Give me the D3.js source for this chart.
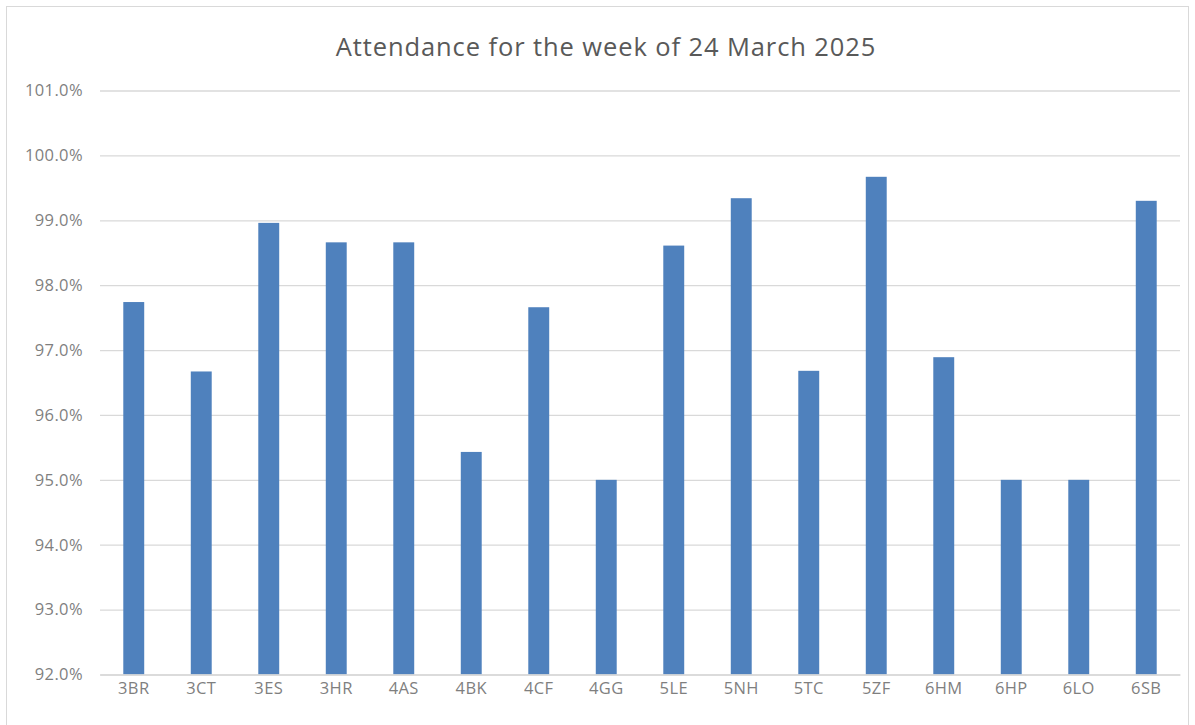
<!DOCTYPE html>
<html>
<head>
<meta charset="utf-8">
<script src="https://cdn.jsdelivr.net/npm/d3@7"></script>
<style>
  body { margin: 0; background: #fff; }
  svg { font-family: "Open Sans", "Noto Sans", sans-serif; }
  .t_title { font-size: 25.5px; fill: #595959; letter-spacing: 0.9px; }
  .axis text { font-family: "Open Sans", "Noto Sans", sans-serif; font-size: 16.5px; fill: #7f7f7f; letter-spacing: 0.4px; }
  .grid line { stroke: #d9d9d9; stroke-width: 1.3; }
</style>
</head>
<body>
<svg width="1195" height="725"></svg>
<script>
/* ----------------------------------------------------------
data
---------------------------------------------------------- */

var classes = ["3BR", "3CT", "3ES", "3HR", "4AS", "4BK", "4CF", "4GG",
  "5LE", "5NH", "5TC", "5ZF", "6HM", "6HP", "6LO", "6SB"];
var attendance = [97.74, 96.67, 98.96, 98.66, 98.66, 95.43, 97.66, 95.0,
  98.61, 99.34, 96.68, 99.67, 96.89, 95.0, 95.0, 99.3];
var yTicks = [92, 93, 94, 95, 96, 97, 98, 99, 100, 101];
var title = "Attendance for the week of 24 March 2025";

/* ----------------------------------------------------------
setting
---------------------------------------------------------- */

var width = 1195;
var height = 725;
var plot = { left: 100, right: 1180, top: 90.5, bottom: 674.5 };

var svg = d3.select("svg");

// chart frame
svg.append("rect")
  .attr("x", 6.5).attr("y", 6.5)
  .attr("width", width - 13).attr("height", height - 6)
  .attr("fill", "#fff")
  .attr("stroke", "#d9d9d9");

var x = d3.scaleBand()
  .domain(classes)
  .range([plot.left, plot.right])
  .paddingInner(0.69)
  .paddingOuter(0.345);

var y = d3.scaleLinear()
  .domain([92, 101])
  .range([plot.bottom, plot.top]);

/* ----------------------------------------------------------
draw
---------------------------------------------------------- */

svg.append("text")
  .attr("class", "t_title")
  .attr("x", 606)
  .attr("y", 56)
  .attr("text-anchor", "middle")
  .text(title);

// gridlines
svg.append("g")
  .attr("class", "grid")
  .attr("transform", "translate(" + plot.left + ",0)")
  .call(d3.axisLeft(y).tickValues(yTicks).tickSize(-(plot.right - plot.left)).tickFormat(""))
  .call(g => g.select(".domain").remove());

// y labels
svg.append("g")
  .attr("class", "axis")
  .attr("transform", "translate(83,0)")
  .call(d3.axisLeft(y).tickValues(yTicks).tickSize(0).tickPadding(0)
    .tickFormat(d => d3.format(".1f")(d) + "%"))
  .call(g => g.select(".domain").remove());

// bars
svg.append("g").selectAll("rect")
  .data(attendance).enter().append("rect")
  .attr("x", (d, i) => x(classes[i]))
  .attr("y", d => y(d))
  .attr("width", x.bandwidth())
  .attr("height", d => y(92) - y(d))
  .attr("fill", "#4f81bd");

// x labels
svg.append("g")
  .attr("class", "axis")
  .attr("transform", "translate(0," + plot.bottom + ")")
  .call(d3.axisBottom(x).tickSize(0).tickPadding(8))
  .call(g => g.select(".domain").attr("stroke", "#d9d9d9").attr("stroke-width", 1.3));
</script>
</body>
</html>
